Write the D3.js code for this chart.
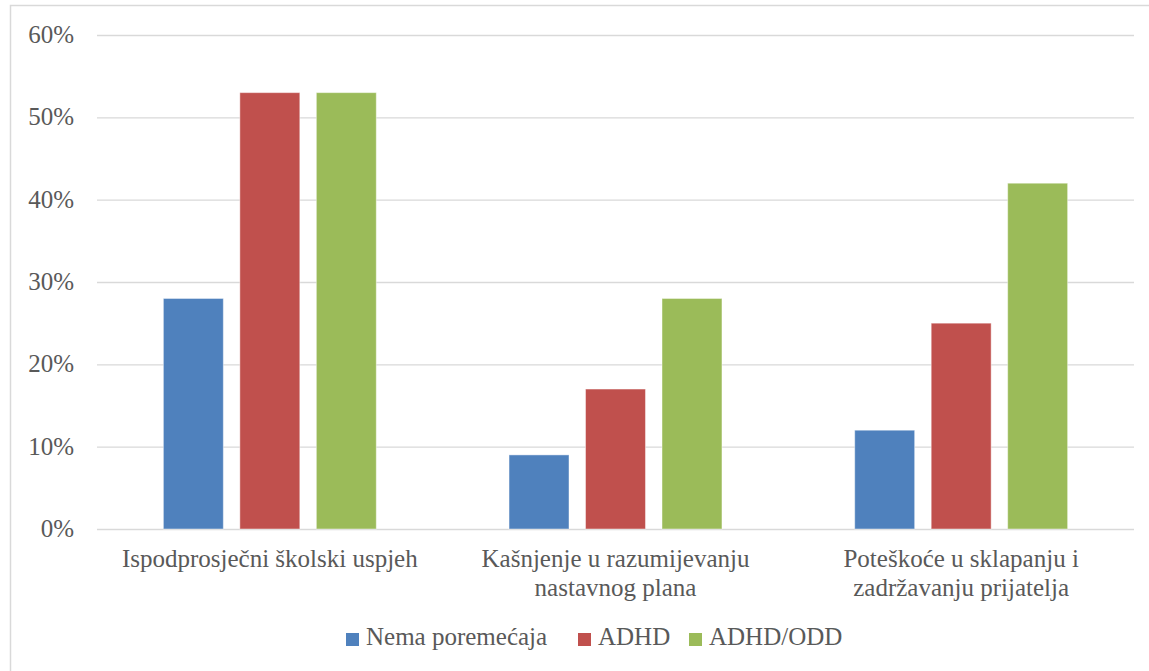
<!DOCTYPE html>
<html>
<head>
<meta charset="utf-8">
<script src="https://cdn.jsdelivr.net/npm/d3@7"></script>
<style>
  body { margin: 0; background: #fff; }
  text { font-family: "Liberation Serif", "DejaVu Serif", serif; fill: #595959; }
</style>
</head>
<body>
<div id="chart"></div>
<script>
var categories = ['Ispodprosječni školski uspjeh',
                  'Kašnjenje u razumijevanju\nnastavnog plana',
                  'Poteškoće u sklapanju i\nzadržavanju prijatelja'];
var seriesNames = ['Nema poremećaja', 'ADHD', 'ADHD/ODD'];
var noDisorder = [0.28, 0.09, 0.12];
var adhd = [0.53, 0.17, 0.25];
var adhdOdd = [0.53, 0.28, 0.42];
var yTicks = [0, 0.1, 0.2, 0.3, 0.4, 0.5, 0.6];
var colors = ['#4F81BD', '#C0504D', '#9BBB59'];

var chart_width = 1149;
var chart_height = 671;
var plot_left = 97, plot_right = 1134, plot_top = 35, plot_bottom = 529;

var allSeries = [noDisorder, adhd, adhdOdd];

var svg = d3.select('#chart')
            .append('svg')
            .attr('width', chart_width)
            .attr('height', chart_height);

// outer chart border (cropped on the right and bottom)
svg.append('rect')
   .attr('x', 10.5)
   .attr('y', 5.5)
   .attr('width', chart_width + 20)
   .attr('height', chart_height + 20)
   .attr('fill', 'none')
   .attr('stroke', '#D9D9D9')
   .attr('stroke-width', 1.5);

var y_scale = d3.scaleLinear()
                .domain([0, 0.6])
                .range([plot_bottom, plot_top]);

var x_scale = d3.scaleBand()
                .domain(d3.range(categories.length))
                .range([plot_left, plot_right])
                .paddingInner(0.384)
                .paddingOuter(0.192);

var x_inner = d3.scaleBand()
                .domain(d3.range(seriesNames.length))
                .range([0, x_scale.bandwidth()])
                .paddingInner(0.216);

// gridlines + y labels via axis
var y_axis = svg.append('g')
   .attr('transform', 'translate(' + plot_left + ',0)')
   .call(d3.axisLeft(y_scale)
           .tickValues(yTicks)
           .tickSize(-(plot_right - plot_left))
           .tickPadding(23)
           .tickFormat(d3.format('.0%')));
y_axis.select('.domain').remove();
y_axis.selectAll('line')
   .attr('stroke', '#D9D9D9')
   .attr('stroke-width', 1.3);
y_axis.selectAll('text')
   .attr('font-family', '"Liberation Serif", "DejaVu Serif", serif')
   .attr('font-size', 25)
   .attr('fill', '#595959')
   .attr('dy', '0.3em');

// bars
var groups = svg.selectAll('g.series')
   .data(allSeries)
   .enter()
   .append('g')
   .attr('class', 'series')
   .attr('fill', function(d, i){ return colors[i]; });

groups.each(function(values, s){
  d3.select(this).selectAll('rect')
    .data(values)
    .enter()
    .append('rect')
    .attr('x', function(d, i){ return x_scale(i) + x_inner(s); })
    .attr('y', function(d){ return y_scale(d); })
    .attr('width', x_inner.bandwidth())
    .attr('height', function(d){ return plot_bottom - y_scale(d); })
    .attr('stroke', 'rgba(255,255,255,0.45)')
    .attr('stroke-width', 1);
});

// category labels
var cat = svg.selectAll('text.cat')
   .data(categories)
   .enter()
   .append('text')
   .attr('class', 'cat')
   .attr('text-anchor', 'middle')
   .attr('font-size', 25)
   .attr('x', function(d, i){ return x_scale(i) + x_scale.bandwidth() / 2; })
   .attr('y', 567);

cat.selectAll('tspan')
   .data(function(d){ return d.split('\n'); })
   .enter()
   .append('tspan')
   .attr('x', function(){ return d3.select(this.parentNode).attr('x'); })
   .attr('dy', function(d, i){ return i === 0 ? 0 : 29; })
   .text(function(d){ return d; });

// legend
var legendX = [346, 578, 689];
var legend = svg.selectAll('g.legend')
   .data(seriesNames)
   .enter()
   .append('g')
   .attr('class', 'legend')
   .attr('transform', function(d, i){ return 'translate(' + legendX[i] + ',633)'; });

legend.append('rect')
   .attr('width', 13)
   .attr('height', 13)
   .attr('fill', function(d, i){ return colors[i]; });

legend.append('text')
   .attr('x', 20)
   .attr('y', 12)
   .attr('font-size', 25)
   .text(function(d){ return d; });
</script>
</body>
</html>
